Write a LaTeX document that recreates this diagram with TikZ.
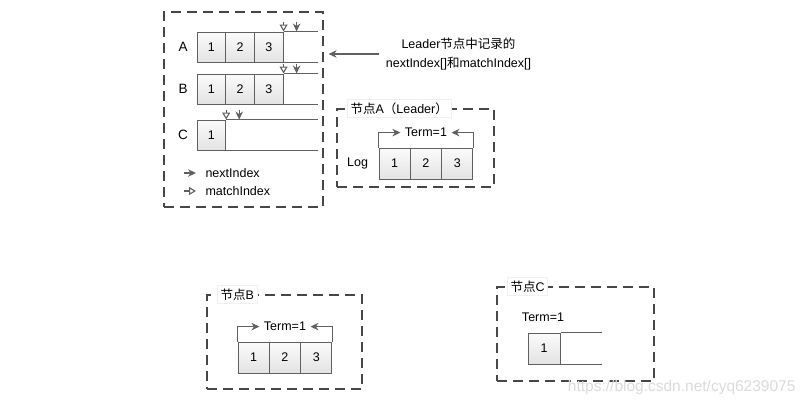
\documentclass[tikz,border=0pt]{standalone}
\usepackage{fontspec}
\setmainfont{Liberation Sans}
\newfontfamily\cjk{Noto Sans CJK SC}
\usetikzlibrary{arrows.meta,positioning}

\begin{document}
\begin{tikzpicture}[x=1pt,y=-1pt,font=\fontsize{12.5}{15}\selectfont,
    cell/.style={draw=gray!75!black,line width=1pt,top color=gray!3,bottom color=gray!22,
      inner sep=0pt,minimum width=31.3,minimum height=31},
    rec/.style={draw=gray!75!black,line width=1pt},
    frame/.style={draw=black!72,dash pattern=on 10pt off 6pt,line width=1.2pt,
      inner sep=0pt},
    ttl/.style={fill=white,draw=gray!12,inner sep=3pt,anchor=west},
    nxt/.style={draw=gray!75!black,line width=1.1pt,-{Stealth[length=8pt,width=7.5pt]}},
    mch/.style={draw=gray!75!black,line width=1.1pt,-{Triangle[open,length=7pt,width=8pt]}}]
    \useasboundingbox (0,0) rectangle (805,405);
    % nextIndex[] / matchIndex[] kept by the leader
    \node[frame,minimum width=159,minimum height=195] (ldr) at (243.5,109.5) {};
    \coordinate (rim) at (318,0);
    \foreach \r/\y/\n in {A/47/3,B/89/3,C/135/1} {
        \node[font=\fontsize{13.5}{16}\selectfont] (lbl\r) at (183,\y) {\r};
        \foreach \i in {1,...,\n}
            \node[cell,minimum width=28.7,minimum height=30] (\r\i) at (182.65+28.7*\i,\y) {\i};
        \draw[rec] (\r\n.north east) -- (rim |- \r\n.north east);
        \draw[rec] (\r\n.south east) -- (rim |- \r\n.south east);
        \draw[mch] ([yshift=10pt]\r\n.north east) -- (\r\n.north east);
        \draw[nxt] ([xshift=13pt,yshift=10pt]\r\n.north east) -- ([xshift=13pt]\r\n.north east);
    }
    % legend
    \node[anchor=west] (lgN) at (202,173) {nextIndex};
    \node[anchor=west] (lgM) at (202,191) {matchIndex};
    \draw[nxt] ([xshift=-18pt]lgN.west) -- ([xshift=-6pt]lgN.west);
    \draw[mch] ([xshift=-18pt]lgM.west) -- ([xshift=-6pt]lgM.west);
    % note
    \node[align=center,font=\fontsize{12.5}{19}\selectfont] (note) at (458.5,54)
        {Leader{\cjk 节点中记录的}\\nextIndex[]{\cjk 和}matchIndex[]};
    \draw[nxt] ([xshift=-3pt]note.west) -- ([xshift=5pt]ldr.east |- note.west);
    % node A
    \node[frame,minimum width=157,minimum height=78] (nA) at (415.5,148) {};
    \node[ttl] (nAt) at ([xshift=11pt]nA.north west) {{\cjk 节点}A{\cjk （}Leader{\cjk ）}};
    \foreach \i in {1,2,3}
        \node[cell] (a\i) at (363.35+31.3*\i,163.5) {\i};
    \node[left=7pt of a1] (log) {Log};
    \node[above=7pt of a2] (tA) {Term=1};
    \draw[nxt] (a1.north west) |- ([xshift=-1pt]tA.west);
    \draw[nxt] (a3.north east) |- ([xshift=1pt]tA.east);
    % node B
    \node[frame,minimum width=155,minimum height=94] (nB) at (284.5,342) {};
    \node[ttl] (nBt) at ([xshift=11pt]nB.north west) {{\cjk 节点}B};
    \foreach \i in {1,2,3}
        \node[cell] (b\i) at (222.35+31.3*\i,357.5) {\i};
    \node[above=7pt of b2] (tB) {Term=1};
    \draw[nxt] (b1.north west) |- ([xshift=-1pt]tB.west);
    \draw[nxt] (b3.north east) |- ([xshift=1pt]tB.east);
    % node C
    \node[frame,minimum width=157,minimum height=94] (nC) at (575.5,334) {};
    \node[ttl] (nCt) at ([xshift=11pt]nC.north west) {{\cjk 节点}C};
    \node (tC) at (543,317) {Term=1};
    \node[cell,minimum width=32] (c1) at (544,348.5) {1};
    \coordinate (cEnd) at (602,0);
    \draw[rec] (c1.north east) -- (cEnd |- c1.north east);
    \draw[rec] (c1.south east) -- (cEnd |- c1.south east);
    % watermark
    \node[text=gray!28,anchor=east,font=\fontsize{15.5}{18}\selectfont] (wm) at (799,387)
        {https://blog.csdn.net/cyq6239075};
\end{tikzpicture}
\end{document}
